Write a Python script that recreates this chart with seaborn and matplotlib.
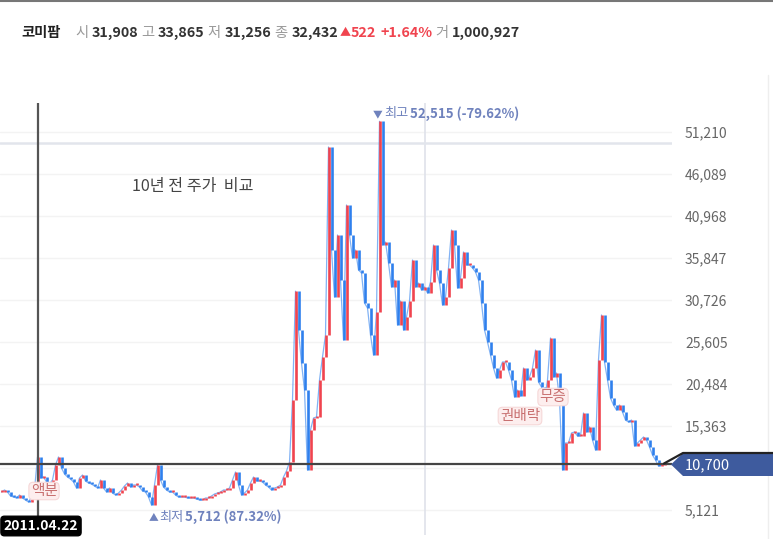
import matplotlib
matplotlib.use("Agg")
import matplotlib.pyplot as plt
import matplotlib.transforms as mtransforms
from matplotlib.patches import Polygon
from matplotlib.lines import Line2D
import seaborn as sns
import numpy as np
import pandas as pd

# ---------------- data ----------------
closes = [
    7315, 7559, 7315, 6828, 6706, 6584, 6950, 6584, 6340, 6096,
    6706, 7559, 11583, 9022, 9144, 8535, 8291, 8779, 10608, 11583,
    10242, 9510, 9144, 8900, 8535, 7803, 9022, 9388, 8657, 8413,
    8291, 8047, 7803, 8779, 7803, 7315, 7803, 7193, 6950, 7193,
    7559, 8047, 8413, 7925, 8169, 8169, 7925, 7437, 7315, 6706,
    5731, 8169, 10608, 8779, 7925, 7559, 7315, 7315, 6950, 6706,
    6706, 6706, 6584, 6584, 6584, 6462, 6340, 6340, 6584, 6584,
    6828, 7071, 7193, 7315, 7559, 7559, 7803, 8779, 9754, 8169,
    6950, 7193, 7559, 8413, 9144, 8657, 8657, 8535, 8169, 7925,
    7559, 7803, 7925, 8169, 9144, 9876, 10974, 18533, 31800, 27068,
    23045, 19752, 9998, 14875, 16338, 16460, 20972, 23776, 26459, 49381,
    36822, 31092, 38651, 33165, 25850, 42309, 38651, 35846, 36822, 34383,
    34017, 30361, 29751, 26459, 24020, 29263, 52515, 37432, 37797, 35236,
    32310, 33165, 27678, 30604, 27068, 28653, 30604, 35602, 32310, 32798,
    31945, 32310, 31579, 32920, 37432, 34383, 32798, 30117, 31092, 34627,
    39261, 37432, 32188, 33408, 36578, 34993, 34993, 34627, 34139, 33165,
    30361, 27068, 25605, 24020, 22435, 21216, 22191, 23167, 23167, 22191,
    20972, 18899, 19752, 19021, 22435, 20972, 21338, 22435, 24630, 20728,
    20118, 18533, 20972, 26093, 21338, 21826, 18533, 9998, 13290, 13290,
    14510, 14632, 14144, 14144, 16948, 14632, 15241, 13656, 12436, 23411,
    28897, 23167, 20972, 18777, 17923, 17313, 17923, 17069, 16094, 15850,
    16094, 12924, 13290, 13656, 14022, 13656, 12802, 11827, 11217, 10486,
    10608, 10700,
]
y_ticks = [5121, 10242, 15363, 20484, 25605, 30726, 35847, 40968, 46089, 51210]
y_tick_labels = ["5,121", "", "15,363", "20,484", "25,605", "30,726",
                 "35,847", "40,968", "46,089", "51,210"]
current_price = 10700
high_label = "52,515 (-79.62%)"
low_label = "5,712 (87.32%)"
compare_date = "2011.04.22"
header_parts = [  # (text, color, weight, left pixel)
    ("코미팜", "#222222", "bold", 21),
    ("시", "#9a9a9a", "normal", 75),
    ("31,908", "#333333", "bold", 91.5),
    ("고", "#9a9a9a", "normal", 141),
    ("33,865", "#333333", "bold", 157.5),
    ("저", "#9a9a9a", "normal", 207),
    ("31,256", "#333333", "bold", 224.5),
    ("종", "#9a9a9a", "normal", 274),
    ("32,432", "#333333", "bold", 291.5),
    ("▲", "#f0444f", "normal", 340),
    ("522", "#f0444f", "bold", 351),
    ("+1.64%", "#f0444f", "bold", 380.5),
    ("거", "#9a9a9a", "normal", 435),
    ("1,000,927", "#333333", "bold", 451.5),
]
events = [("액분", 44, 491), ("권배락", 520, 416), ("무증", 553, 397)]

RED = "#f0444f"
BLUE = "#2f80ed"

# ---------------- figure ----------------
sns.set_theme(style="white")
plt.rcParams['font.family'] = ['Noto Sans CJK KR', 'DejaVu Sans']

W, H = 773, 539
fig = plt.figure(figsize=(W / 100, H / 100), dpi=100)
pix = mtransforms.Affine2D().scale(1 / W, -1 / H).translate(0, 1) + fig.transFigure

ax = fig.add_axes([0, 4 / H, 672 / W, 432 / H])
per_px = 5121 / 42.0

# candles as up/down bars
df = pd.DataFrame({"i": np.arange(len(closes)), "close": closes})
df["prev"] = df["close"].shift(1).fillna(df["close"])
df["lo"] = df[["prev", "close"]].min(axis=1)
df["hi"] = np.maximum(df[["prev", "close"]].max(axis=1), df["lo"] + 200)
df["up"] = df["close"] >= df["prev"]
sns.lineplot(data=df, x="i", y="close", ax=ax, color=BLUE, lw=0.9, alpha=0.6, zorder=2)
for flag, col in ((True, RED), (False, BLUE)):
    d = df[df["up"] == flag]
    ax.vlines(d["i"], d["lo"], d["hi"], color=col, lw=1.9, zorder=3)

ax.set_ylim(5121 - 25 * per_px, 5121 + 407 * per_px)
ax.set_xlim(-0.5, 223.5)
ax.set_xlabel("")
ax.set_ylabel("")
for s in ax.spines.values():
    s.set_visible(False)

ax.yaxis.tick_right()
ax.set_yticks(y_ticks)
ax.set_yticklabels(y_tick_labels)
ax.tick_params(axis='y', length=0, pad=9.4, labelsize=10, colors='#666666')
ax.set_xticks([])
ax.grid(axis='y', color='#f3f3f3', lw=1)
ax.set_axisbelow(True)

# crosshair (mouse)
ax.axvline(141.2, color='#dfe2ea', lw=1.2, zorder=0.6)
ax.axhline(5121 + (510 - 143) * per_px, color='#e2e5ec', lw=1.8, zorder=0.6)

# comparison lines
ax.axvline(12.17, color='#555555', lw=1.6, zorder=4)
ax.axhline(current_price, color='#444444', lw=1.6, zorder=4)

# ---------------- annotations ----------------
fig.text(132, 186, "10년 전 주가  비교", transform=pix, fontsize=11.6, color='#444444',
         va='center', ha='left')

lab_col = '#6f82bd'
fig.text(373, 114, "▼", transform=pix, fontsize=7, color=lab_col, va='center')
fig.text(384, 114, "최고", transform=pix, fontsize=9.5, color=lab_col, va='center')
fig.text(410, 114, high_label, transform=pix, fontsize=9.5, color=lab_col,
         va='center', weight='bold')
fig.text(149, 517, "▲", transform=pix, fontsize=7, color=lab_col, va='center')
fig.text(159, 517, "최저", transform=pix, fontsize=9.5, color=lab_col, va='center')
fig.text(185, 517, low_label, transform=pix, fontsize=9.5, color=lab_col,
         va='center', weight='bold')

for txt, cx, cy in events:
    fig.text(cx, cy, txt, transform=pix, fontsize=10.5, color='#c87070', ha='center',
             va='center', zorder=10,
             bbox=dict(boxstyle='round,pad=0.12,rounding_size=0.3', fc='#fdeeee',
                       ec='#f6d8d8', lw=0.8))

fig.text(41, 526, compare_date, transform=pix, fontsize=10, color='white', weight='bold',
         ha='center', va='center', zorder=10,
         bbox=dict(boxstyle='round,pad=0.2,rounding_size=0.25', fc='black', ec='black'))

# current price box
fig.add_artist(Polygon([(671, 464.5), (683, 453), (773, 453), (773, 476), (683, 476)],
                       closed=True, fc='#3e5b9e', ec='none', transform=pix, zorder=8))
fig.add_artist(Line2D([664, 683, 773], [463.5, 453, 453], color='#222222', lw=1.6,
                      transform=pix, zorder=9))
fig.text(685, 465, f"{current_price:,}", transform=pix, fontsize=10.5, color='white',
         va='center', ha='left', zorder=10)

# header
for txt, col, wt, px in header_parts:
    fig.text(px, 33, txt, transform=pix, fontsize=10.3 if txt != "▲" else 8,
             color=col, weight=wt, va='center', ha='left')

fig.add_artist(Line2D([0, 773], [0.8, 0.8], color='#777777', lw=1.5, transform=pix))
fig.add_artist(Line2D([768, 768], [75, 539], color='#eeeeee', lw=1, transform=pix))

fig.savefig("out.png", dpi=100)
